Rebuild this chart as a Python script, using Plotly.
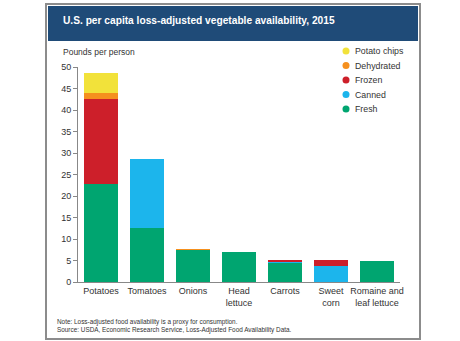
import plotly.graph_objects as go

categories = ["Potatoes", "Tomatoes", "Onions", "Head<br>lettuce", "Carrots", "Sweet<br>corn", "Romaine and<br>leaf lettuce"]
fresh = [22.9, 12.6, 7.5, 6.9, 4.5, 0.0, 4.8]
canned = [0.0, 15.9, 0.0, 0.0, 0.3, 3.65, 0.0]
frozen = [19.6, 0.0, 0.0, 0.0, 0.4, 1.4, 0.0]
dehydrated = [1.5, 0.0, 0.15, 0.0, 0.0, 0.0, 0.0]
potato_chips = [4.5, 0.0, 0.0, 0.0, 0.0, 0.0, 0.0]

series = [
    ("Fresh", fresh, "#00a570"),
    ("Canned", canned, "#1cb5ec"),
    ("Frozen", frozen, "#cd1f2a"),
    ("Dehydrated", dehydrated, "#f5901e"),
    ("Potato chips", potato_chips, "#f2e23a"),
]

W, H = 460, 341
L, R, T, B = 78, 60, 67, 59
pw, ph = W - L - R, H - T - B

def px(x):
    return (x - L) / pw

def py(y):
    return (H - B - y) / ph

fig = go.Figure()
for name, vals, col in series:
    fig.add_trace(go.Bar(x=categories, y=vals, name=name, marker=dict(color=col, line=dict(width=0)),
                         showlegend=False))

font = "Liberation Sans, Arial, sans-serif"
shapes = [
    dict(type="rect", xref="paper", yref="paper", x0=px(46), x1=px(420), y0=py(339), y1=py(4),
         line=dict(color="#8c8c8c", width=2), fillcolor="rgba(0,0,0,0)", layer="below"),
    dict(type="rect", xref="paper", yref="paper", x0=px(48), x1=px(418), y0=py(41), y1=py(6),
         line=dict(width=0), fillcolor="#1f4b78", layer="below"),
]
annotations = [
    dict(text="<b>U.S. per capita loss-adjusted vegetable availability, 2015</b>", xref="paper", yref="paper",
         x=px(61), y=py(21), xanchor="left", yanchor="middle", showarrow=False,
         font=dict(size=10.2, color="white")),
    dict(text="Pounds per person", xref="paper", yref="paper", x=px(61), y=py(52),
         xanchor="left", yanchor="middle", showarrow=False, font=dict(size=8.5, color="#333333")),
    dict(text="Note: Loss-adjusted food availability is a proxy for consumption.<br>"
              "Source: USDA, Economic Research Service, Loss-Adjusted Food Availability Data.",
         xref="paper", yref="paper", x=px(55), y=py(326), xanchor="left", yanchor="middle",
         align="left", showarrow=False, font=dict(size=6.4, color="#333333")),
]

# manual legend with circle markers, top item = Potato chips
legend_y0, legend_dy = 51, 14.5
for i, (name, vals, col) in enumerate(reversed(series)):
    yc = legend_y0 + i * legend_dy
    r = 3.5
    shapes.append(dict(type="circle", xref="paper", yref="paper", x0=px(346 - r), x1=px(346 + r),
                       y0=py(yc + r), y1=py(yc - r), fillcolor=col, line=dict(width=0)))
    annotations.append(dict(text=name, xref="paper", yref="paper", x=px(353), y=py(yc),
                            xanchor="left", yanchor="middle", showarrow=False,
                            font=dict(size=8.8, color="#333333")))

fig.update_layout(
    width=W, height=H,
    margin=dict(l=L, r=R, t=T, b=B),
    barmode="stack", bargap=0.26,
    paper_bgcolor="white", plot_bgcolor="white",
    font=dict(family=font, size=9, color="#333333"),
    showlegend=False,
    xaxis=dict(showgrid=False, showline=True, linecolor="#888888", linewidth=1,
               ticks="", tickfont=dict(size=9, color="#333333"), fixedrange=True),
    yaxis=dict(range=[0, 50], dtick=5, showgrid=False, showline=True, linecolor="#888888", linewidth=1,
               ticks="outside", ticklen=4, tickcolor="#888888", zeroline=False,
               tickfont=dict(size=9, color="#333333")),
    shapes=shapes,
    annotations=annotations,
)

fig.write_html("out.html")
